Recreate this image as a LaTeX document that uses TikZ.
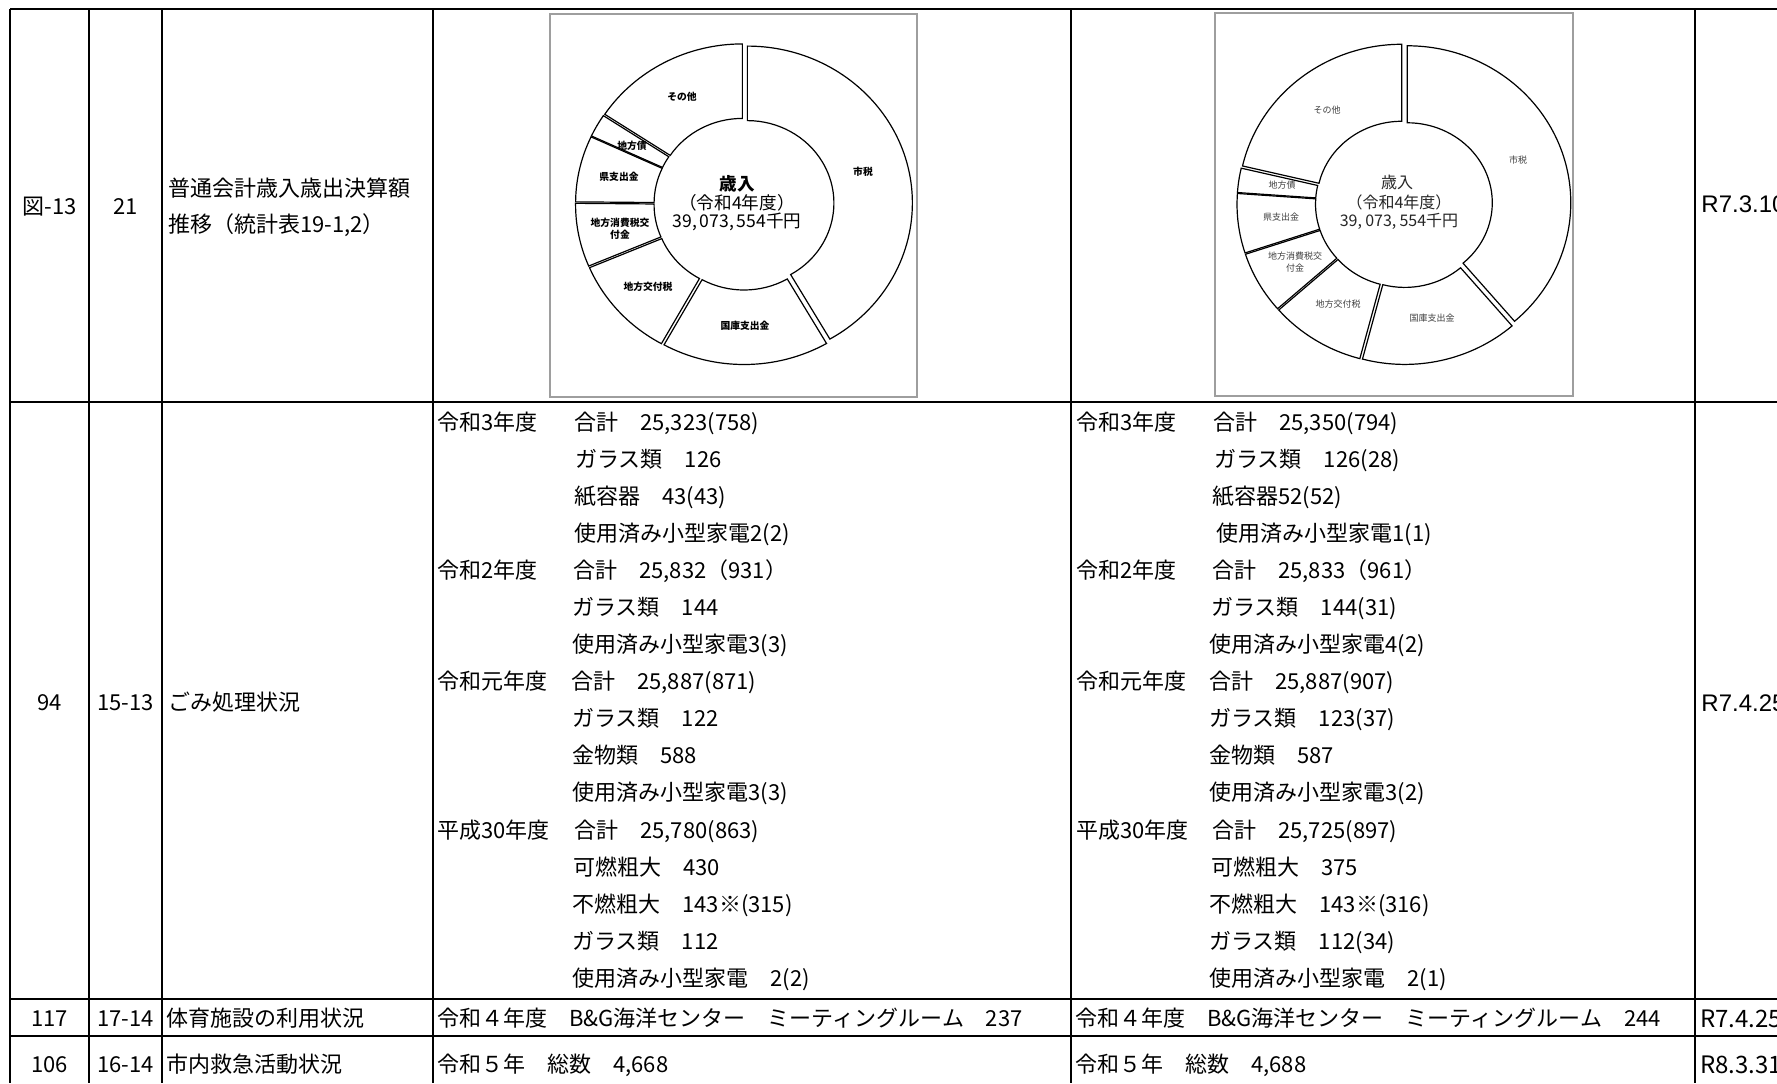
\documentclass[tikz,border=0pt]{standalone}
\usepackage{fontspec}
\setmainfont{Noto Sans CJK JP}
\newfontfamily\arialf{Liberation Sans}
\newcommand\donutslice[9]{%
  \pgfmathsetmacro\slA{#3-90}%
  \pgfmathsetmacro\slB{#4-90}%
  \pgfmathsetmacro\slM{(#3+#4)/2-90}%
  \begin{scope}[shift={(#1,#2)}]
  \begin{scope}[shift={(\slM:#9)}]
  \draw[slice] (\slA:#5 and #6) -- (\slA:#7 and #8)
    arc[start angle=\slA, end angle=\slB, x radius=#7, y radius=#8]
    -- (\slB:#5 and #6)
    arc[start angle=\slB, end angle=\slA, x radius=#5, y radius=#6] -- cycle;
  \end{scope}\end{scope}}
\begin{document}
\begin{tikzpicture}[x=0.5pt,y=-0.5pt,
  tline/.style={line width=0.85pt, draw=black},
  boxline/.style={line width=0.6pt, draw=black!38},
  slice/.style={line width=0.6pt, draw=black, fill=white, line join=miter},
  txt/.style={inner sep=0pt, font=\fontsize{11pt}{13pt}\selectfont, text height=9.7pt, text depth=1.3pt},
  ltxt/.style={txt, anchor=west},
  ctxt/.style={txt, anchor=center},
  atxt/.style={inner sep=0pt, anchor=west, font=\arialf\fontsize{12pt}{14pt}\selectfont, text height=8.6pt, text depth=0pt},
  btxt/.style={inner sep=0pt, anchor=west, font=\fontsize{12pt}{14pt}\selectfont, text height=10.6pt, text depth=1.4pt},
  lblA/.style={inner sep=0pt, anchor=center, align=center, font=\bfseries\fontsize{4.9pt}{6pt}\selectfont, text=black},
  lblB/.style={inner sep=0pt, anchor=center, align=center, font=\fontsize{4.5pt}{5.6pt}\selectfont, text=black!75},
  midA/.style={inner sep=0pt, anchor=center, font=\fontsize{8.8pt}{10pt}\selectfont},
  midB/.style={inner sep=0pt, anchor=center, font=\fontsize{8pt}{9pt}\selectfont, text=black!85}
]
\useasboundingbox (0,0) rectangle (1777,1083);
\clip (0,0) rectangle (1777,1083);
\fill[white] (0,0) rectangle (1777,1083);

% ---------- table grid ----------
\draw[tline] (10,9) -- (1777,9);
\draw[tline] (10,402) -- (1777,402);
\draw[tline] (10,999) -- (1777,999);
\draw[tline] (10,1036) -- (1777,1036);
\foreach \xx in {10,89,162,433,1071,1695}
  \draw[tline] (\xx,9) -- (\xx,1083);

% ---------- row 1 ----------
\node[ctxt] (r1c1) at (49.5,206) {図-13};
\node[ctxt] (r1c2) at (125.5,206) {21};
\node[ltxt] (r1c3a) at (168,188) {普通会計歳入歳出決算額};
\node[ltxt] (r1c3b) at (168,224) {推移（統計表19-1,2）};
\node[atxt] (r1c6) at (1701,204) {R7.3.10};

% ---------- chart 1 ----------
\draw[boxline] (550,14) rectangle (917,397);
\donutslice{744}{204}{0}{150}{86.5}{82.5}{165}{157}{3.5}
\donutslice{744}{204}{150}{209}{86.5}{82.5}{165}{157}{3.5}
\donutslice{744}{204}{209}{247}{86.5}{82.5}{165}{157}{3.5}
\donutslice{744}{204}{247}{270.5}{86.5}{82.5}{165}{157}{3.5}
\donutslice{744}{204}{270.5}{295}{86.5}{82.5}{165}{157}{3.5}
\donutslice{744}{204}{295}{303.5}{86.5}{82.5}{165}{157}{3.5}
\donutslice{744}{204}{303.5}{360}{86.5}{82.5}{165}{157}{3.5}
\node[lblA] (a-sonota) at (682,97) {その他};
\node[lblA] (a-chihousai) at (632,146) {地方債};
\node[lblA] (a-ken) at (619,177) {県支出金};
\node[lblA] (a-shouhi) at (620,229) {地方消費税交\\付金};
\node[lblA] (a-koufu) at (648,287) {地方交付税};
\node[lblA] (a-kokko) at (745,326) {国庫支出金};
\node[lblA] (a-shizei) at (863,172) {市税};
\node[midA, font=\bfseries\fontsize{8.8pt}{10pt}\selectfont] (a-m1) at (737,184) {歳入};
\node[midA] (a-m2) at (737,203) {（令和4年度）};
\node[midA] (a-m3) at (737,222) {39,\kern0.15em073,\kern0.15em554千円};

% ---------- chart 2 ----------
\draw[boxline] (1215,13) rectangle (1573,396);
\donutslice{1404}{204}{0}{139}{85}{80}{163.5}{157}{3.5}
\donutslice{1404}{204}{139}{195}{85}{80}{163.5}{157}{3.5}
\donutslice{1404}{204}{195}{229}{85}{80}{163.5}{157}{3.5}
\donutslice{1404}{204}{229}{252}{85}{80}{163.5}{157}{3.5}
\donutslice{1404}{204}{252}{274}{85}{80}{163.5}{157}{3.5}
\donutslice{1404}{204}{274}{283}{85}{80}{163.5}{157}{3.5}
\donutslice{1404}{204}{283}{360}{85}{80}{163.5}{157}{3.5}
\node[lblB] (b-sonota) at (1327,110) {その他};
\node[lblB] (b-chihousai) at (1282,185) {地方債};
\node[lblB] (b-ken) at (1281,217) {県支出金};
\node[lblB] (b-shouhi) at (1295,262) {地方消費税交\\付金};
\node[lblB] (b-koufu) at (1338,304) {地方交付税};
\node[lblB] (b-kokko) at (1432,318) {国庫支出金};
\node[lblB] (b-shizei) at (1518,160) {市税};
\node[midB] (b-m1) at (1397,182) {歳入};
\node[midB] (b-m2) at (1399,202) {（令和4年度）};
\node[midB] (b-m3) at (1399,221) {39,\kern0.2em073,\kern0.2em554千円};

% ---------- row 2 ----------
\node[ctxt] (r2c1) at (49.5,702) {94};
\node[ctxt] (r2c2) at (125.5,702) {15-13};
\node[ltxt] (r2c3) at (168,702) {ごみ処理状況};
\node[atxt] (r2c6) at (1701,703) {R7.4.25};

% left content column
\node[ltxt] (L0y) at (437,422.0) {令和3年度};
\node[ltxt] (L0) at (574,422.0) {合計　25,323(758)};
\node[ltxt] (L1) at (575,459.1) {ガラス類　126};
\node[ltxt] (L2) at (574,496.1) {紙容器　43(43)};
\node[ltxt] (L3) at (574,533.2) {使用済み小型家電2(2)};
\node[ltxt] (L4y) at (437,570.2) {令和2年度};
\node[ltxt] (L4) at (573,570.2) {合計　25,832（931）};
\node[ltxt] (L5) at (572,607.3) {ガラス類　144};
\node[ltxt] (L6) at (572,644.3) {使用済み小型家電3(3)};
\node[ltxt] (L7y) at (437,681.4) {令和元年度};
\node[ltxt] (L7) at (571,681.4) {合計　25,887(871)};
\node[ltxt] (L8) at (572,718.4) {ガラス類　122};
\node[ltxt] (L9) at (572,755.5) {金物類　588};
\node[ltxt] (L10) at (572,792.5) {使用済み小型家電3(3)};
\node[ltxt] (L11y) at (437,829.6) {平成30年度};
\node[ltxt] (L11) at (574,829.6) {合計　25,780(863)};
\node[ltxt] (L12) at (573,866.6) {可燃粗大　430};
\node[ltxt] (L13) at (572,903.7) {不燃粗大　143※(315)};
\node[ltxt] (L14) at (572,940.7) {ガラス類　112};
\node[ltxt] (L15) at (572,977.8) {使用済み小型家電　2(2)};

% right content column
\node[ltxt] (R0y) at (1076,422.0) {令和3年度};
\node[ltxt] (R0) at (1213,422.0) {合計　25,350(794)};
\node[ltxt] (R1) at (1214,459.1) {ガラス類　126(28)};
\node[ltxt] (R2) at (1212,496.1) {紙容器52(52)};
\node[ltxt] (R3) at (1216,533.2) {使用済み小型家電1(1)};
\node[ltxt] (R4y) at (1076,570.2) {令和2年度};
\node[ltxt] (R4) at (1212,570.2) {合計　25,833（961）};
\node[ltxt] (R5) at (1211,607.3) {ガラス類　144(31)};
\node[ltxt] (R6) at (1209,644.3) {使用済み小型家電4(2)};
\node[ltxt] (R7y) at (1076,681.4) {令和元年度};
\node[ltxt] (R7) at (1209,681.4) {合計　25,887(907)};
\node[ltxt] (R8) at (1209,718.4) {ガラス類　123(37)};
\node[ltxt] (R9) at (1209,755.5) {金物類　587};
\node[ltxt] (R10) at (1209,792.5) {使用済み小型家電3(2)};
\node[ltxt] (R11y) at (1076,829.6) {平成30年度};
\node[ltxt] (R11) at (1212,829.6) {合計　25,725(897)};
\node[ltxt] (R12) at (1211,866.6) {可燃粗大　375};
\node[ltxt] (R13) at (1209,903.7) {不燃粗大　143※(316)};
\node[ltxt] (R14) at (1209,940.7) {ガラス類　112(34)};
\node[ltxt] (R15) at (1209,977.8) {使用済み小型家電　2(1)};

% ---------- row 3 ----------
\node[ctxt] (r3c1) at (49.5,1018) {117};
\node[ctxt] (r3c2) at (125.5,1018) {17-14};
\node[ltxt] (r3c3) at (166,1018) {体育施設の利用状況};
\node[ltxt] (r3c4) at (437,1018) {令和４年度　B\&G海洋センター　ミーティングルーム　237};
\node[ltxt] (r3c5) at (1075,1018) {令和４年度　B\&G海洋センター　ミーティングルーム　244};
\node[btxt] (r3c6) at (1700,1018) {R7.4.25};

% ---------- row 4 ----------
\node[ctxt] (r4c1) at (49.5,1064) {106};
\node[ctxt] (r4c2) at (125.5,1064) {16-14};
\node[ltxt] (r4c3) at (166,1064) {市内救急活動状況};
\node[ltxt] (r4c4) at (437,1064) {令和５年　総数　4,668};
\node[ltxt] (r4c5) at (1075,1064) {令和５年　総数　4,688};
\node[btxt] (r4c6) at (1700,1064) {R8.3.31};
\end{tikzpicture}
\end{document}
